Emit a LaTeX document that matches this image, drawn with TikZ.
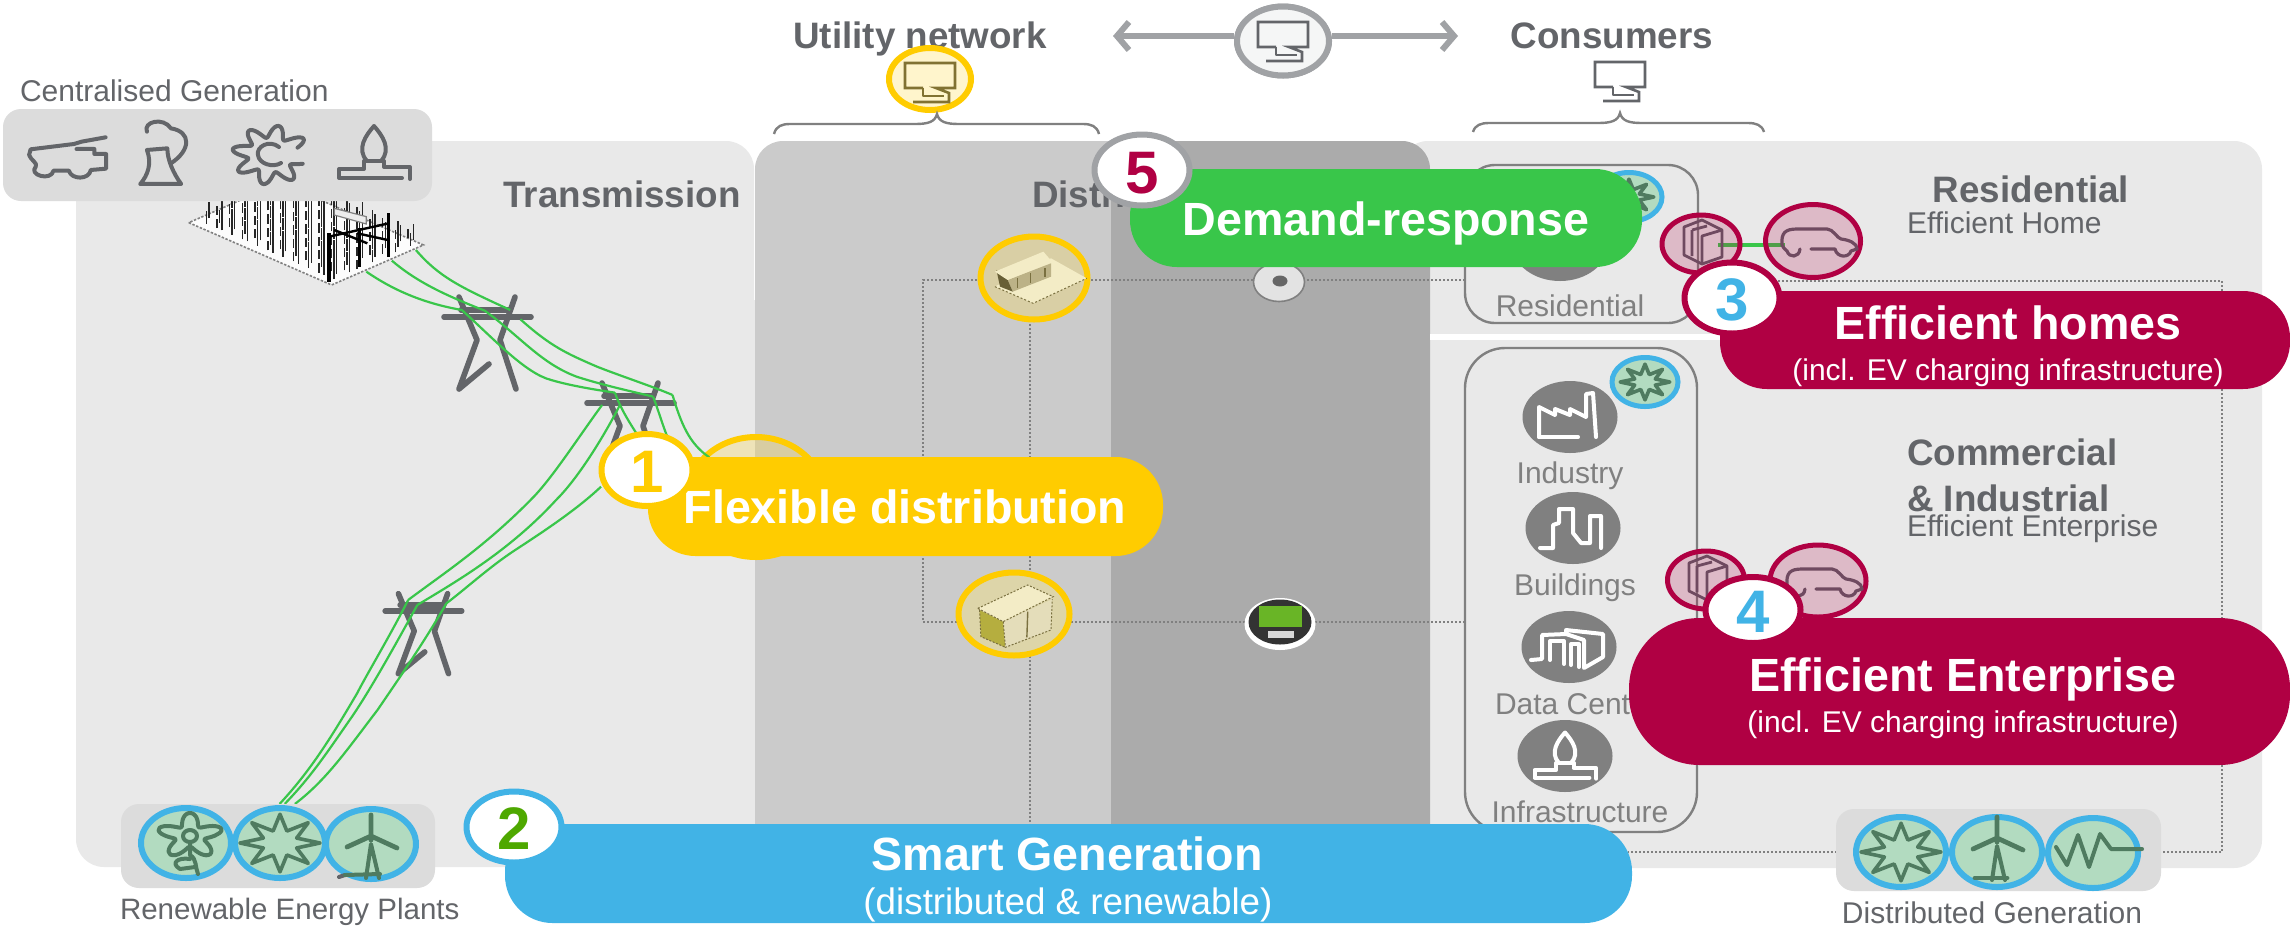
\documentclass[tikz,border=0pt]{standalone}
\usepackage{fontspec}
\setmainfont{Liberation Sans}
\usetikzlibrary{shapes.geometric,arrows.meta}
\definecolor{panelA}{HTML}{E9E9E9}
\definecolor{panelB}{HTML}{CBCBCB}
\definecolor{panelC}{HTML}{ABABAB}
\definecolor{boxgrey}{HTML}{DCDCDC}
\definecolor{txt}{HTML}{636569}
\definecolor{lbl}{HTML}{808080}
\definecolor{arrowgrey}{HTML}{A0A2A5}
\definecolor{yel}{HTML}{FFCC00}
\definecolor{softyel}{HTML}{FCD334}
\definecolor{crim}{HTML}{B00043}
\definecolor{sky}{HTML}{41B3E6}
\definecolor{grn}{HTML}{39C64A}
\definecolor{numgreen}{HTML}{4EA800}
\definecolor{mint}{HTML}{B2DBC0}
\definecolor{leaf}{HTML}{4F7B60}
\definecolor{plum}{HTML}{6F4A60}
\definecolor{sandA}{HTML}{D9CFA5}
\definecolor{sandB}{HTML}{DDD5A9}
\definecolor{cream}{HTML}{F3ECC6}
\definecolor{olive}{HTML}{B5AE3F}
\definecolor{umber}{HTML}{7A7040}
\newcommand{\ftitle}{\fontsize{18.4}{21}\selectfont\bfseries}
\newcommand{\fbar}{\fontsize{23.3}{26}\selectfont\bfseries}
\newcommand{\fsubt}{\fontsize{15}{18}\selectfont}
\newcommand{\fsmart}{\fontsize{18.4}{21}\selectfont}
\newcommand{\fdigit}{\fontsize{30}{33}\selectfont\bfseries}
\tikzset{
  ell/.style n args={2}{ellipse,inner sep=0pt,minimum width={(#1-5)*0.5pt},minimum height={(#2-5)*0.5pt}},
  bar/.style n args={2}{rectangle,inner sep=0pt,minimum width={#1*0.5pt},minimum height={#2*0.5pt},rounded corners={#2*0.24pt}},
  panel/.style={draw=none,rounded corners=14pt},
  tl/.style={anchor=base,inner sep=0pt,outer sep=0pt},
  tw/.style={anchor=base west,inner sep=0pt,outer sep=0pt},
  heading/.style={tl,font=\ftitle,text=txt},
  headingw/.style={tw,font=\ftitle,text=txt},
  subw/.style={tw,font=\fsubt,text=txt},
  subc/.style={tl,font=\fsubt,text=txt},
  captext/.style={tl,font=\fsubt,text=lbl},
  white label/.style={tl,text=white},
  badge/.style={ell={100}{76},fill=white,line width=3pt},
  greencircle/.style={ell={95}{75},draw=sky,fill=mint,line width=3pt},
  smallgreen/.style={ell={71}{54},draw=sky,fill=mint,line width=2.5pt},
  greycircle/.style={ell={100}{77},fill=lbl},
  pinkcircle/.style={ellipse,inner sep=0pt,draw=crim,line width=2.5pt,fill=crim,fill opacity=.2,draw opacity=1},
  dots/.style={draw=lbl,line width=1.2pt,dash pattern=on 1pt off 1pt},
  wire/.style={draw=grn,line width=1.1pt},
  iconline/.style={line width=2pt,line cap=round,line join=round},
  towerline/.style={draw=txt,line width=2.8pt,line cap=round,line join=round},
  towericon/.pic={
    \draw[towerline] (-28,-20) -- (-10,23) -- (-28,72) -- (2,47);
    \draw[towerline] (28,-20) -- (13,23) -- (29,72);
    \draw[towerline] (-43,0) -- (44,0);
    \draw[towerline] (-26,-7) -- (23,-7);
  },
  sunicon/.pic={
    \draw[iconline,draw=leaf,line width=1.8pt] plot[domain=0:360,samples=17] ({(29+11*cos(8*\x))*cos(\x)},{(29+11*cos(8*\x))*0.72*sin(\x)}) -- cycle;
  },
  windicon/.pic={
    \draw[iconline,draw=leaf,line width=2.4pt] (0,-29) -- (0,-4) (-24,3) -- (0,-8) -- (26,4);
    \draw[iconline,draw=leaf] (-5,34) -- (0,0) -- (8,34);
  },
  waveicon/.pic={
    \draw[iconline,draw=leaf] (-37,-6) -- (-26,12) -- (-15,-18) -- (-4,14) -- (7,-19) -- (18,-4) -- (49,-4);
  },
  flowericon/.pic={
    \draw[iconline,draw=leaf] plot[smooth cycle,domain=0:350,samples=48] ({4+(24+9*cos(5*\x+90))*cos(\x)},{-7+(24+9*cos(5*\x+90))*.7*sin(\x)});
    \draw[iconline,draw=leaf] (4,-7) ellipse (7 and 6);
    \draw[iconline,draw=leaf] (4,-1) -- (4,12) .. controls (11,16) and (9,24) .. (12,31) (4,16) .. controls (-8,14) and (-16,20) .. (-6,26) -- (9,24);
  },
  monitoricon/.pic={
    \draw[iconline,line width=1.3pt,line cap=butt,line join=miter] (-7,8) -- (-25,8) -- (-25,-17) -- (25,-17) -- (25,8) -- (6,8) -- (19,13) -- (19,22) -- (-17,22);
    \draw[iconline,line width=1.3pt,line cap=butt] (-7,8) -- (-7,16) -- (14,16);
  },
  burnericon/.pic={
    \draw[iconline] (-7,8) .. controls (-18,-4) and (-8,-18) .. (0,-27) .. controls (8,-18) and (18,-4) .. (7,8);
    \draw[iconline] (28,25) -- (-35,25) -- (-35,16) -- (-10,16) -- (-10,8) -- (10,8) -- (10,14) -- (36,14) -- (36,26);
  },
  dooricon/.pic={
    \draw[draw=plum,line width=1.4pt,line join=round] (-17,-17) -- (1,-24) -- (21,-14) -- (21,13) -- (1,20) -- (-17,11) -- cycle;
    \draw[draw=plum,line width=1.4pt,line join=round] (1,20) -- (1,-8) -- (21,-14);
    \draw[draw=plum,line width=1.4pt] (-9,-14) -- (-9,12) (-9,-14) -- (6,-18);
  },
  caricon/.pic={
    \draw[draw=plum,line width=1.6pt,line join=round,line cap=round] (-31,4) .. controls (-32,-8) and (-28,-12) .. (-16,-12) -- (14,-12) .. controls (20,-12) and (24,-3) .. (28,-2) .. controls (36,-1) and (44,2) .. (44,8) -- (38,10) .. controls (36,17) and (24,17) .. (22,8) -- (-2,8);
    \draw[draw=plum,line width=1.6pt,line cap=round] (-31,4) .. controls (-29,8) and (-27,9) .. (-26,10) .. controls (-24,17) and (-14,17) .. (-13,8);
  },
}
\begin{document}
\begin{tikzpicture}[x=0.5pt,y=-0.5pt]
\useasboundingbox (0,0) rectangle (2290,928);
\fill[white] (0,0) rectangle (2290,928);

% panels
\fill[panelA,panel] (76,141) rectangle (754,867);
\fill[panelA] (730,300) rectangle (760,867);
\fill[panelA,panel] (1400,141) rectangle (2262,868);
\fill[panelB,panel] (755,141) rectangle (1140,867);
\fill[panelC,panel] (1111,141) -- (1430,141) -- (1430,867) -- (1111,867) -- cycle;
\fill[panelC] (1111,200) rectangle (1130,867);
\fill[white] (1430,334) rectangle (1720,340);

% dotted network
\coordinate (dtl) at (923,280);
\coordinate (dbl) at (923,622);
\coordinate (dbr) at (1465,622);
\coordinate (dtr) at (1465,280);
\coordinate (drs) at (1698,281);
\coordinate (dre) at (2222,281);
\coordinate (drb) at (2222,852);
\coordinate (dbm) at (1628,852);
\coordinate (dvt) at (1030,280);
\coordinate (dvb) at (1030,825);
\draw[dots] (dtr) -- (dtl) -- (dbl) -- (dbr);
\draw[dots] (dvt) -- (dvb);
\draw[dots] (drs) -- (dre) -- (drb) -- (dbm);

% headings
\node[heading] (ttrans) at (622,207) {Transmission};
\node[headingw] (tdist) at (1032,207) {Distribution};
\node[heading] (tutil) at (920,48) {Utility network};
\node[heading] (tcons) at (1612,48) {Consumers};
\node[tw,font=\fsubt,text=txt] (tcentral) at (20,101) {Centralised Generation};
\node[heading] (tres) at (2031,202) {Residential};
\node[subw] (tresh) at (1907,233) {Efficient Home};
\node[headingw] (tcom) at (1907,465) {Commercial};
\node[headingw] (tind) at (1907,511) {\& Industrial};
\node[subw] (tente) at (1907,536) {Efficient Enterprise};

% top: data link
\coordinate (arrL) at (1113,36);
\coordinate (arrR) at (1458,36);
\node[ell={97}{74},draw=arrowgrey,fill=white,line width=3pt] (monmid) at (1283,41) {};
\draw[draw=arrowgrey,line width=3pt,-{Straight Barb[length=6pt,width=14pt]}] (monmid.west |- arrL) -- (arrL);
\draw[draw=arrowgrey,line width=3pt,-{Straight Barb[length=6pt,width=14pt]}] (monmid.east |- arrR) -- (arrR);
\node[ell={97}{74},draw=arrowgrey,fill=white!90!arrowgrey,line width=3pt] (monmidb) at (1283,41) {};
\pic[color=txt] at (1283,39) {monitoricon};
\node[ell={87}{67},draw=yel,fill=yel!20,line width=3pt] (monutil) at (930,79) {};
\pic[color=txt!60!yel!80!black] at (930,80) {monitoricon};
\pic[color=txt] at (1620,79) {monitoricon};

% braces
\draw[draw=lbl,line width=1.2pt] (774,134) .. controls (776,126) and (782,124) .. (790,124) -- (915,124) .. controls (928,124) and (935,122) .. (937,114) .. controls (939,122) and (946,124) .. (959,124) -- (1083,124) .. controls (1091,124) and (1097,126) .. (1099,134);
\draw[draw=lbl,line width=1.2pt] (1473,132) .. controls (1475,125) and (1481,123) .. (1489,123) -- (1598,123) .. controls (1611,123) and (1618,121) .. (1620,113) .. controls (1622,121) and (1629,123) .. (1642,123) -- (1748,123) .. controls (1756,123) and (1762,125) .. (1764,132);

% substation
\begin{scope}[xscale=0.5102,yscale=0.3333]
\fill[white!88!panelA] (370,668) -- (650,855) -- (830,735) -- (550,548) -- cycle;
\draw[draw=gray,line width=.8pt,dash pattern=on 1.2pt off .8pt] (370,668) -- (650,855) -- (830,735) -- (550,548) -- cycle;
\foreach \u in {1,...,27}{
  \foreach \v in {1,...,12}{
    \pgfmathsetmacro{\px}{370+\u*10+\v*15}
    \pgfmathsetmacro{\py}{668+\u*6.65-\v*10}
    \pgfmathsetmacro{\ln}{18+mod(\u*7+\v*13,5)*10}
    \pgfmathtruncatemacro{\keep}{mod(\u*3+2*\v,5)}
    \ifnum\keep>1
      \draw[black!85,line width=.7pt] (\px,\py) -- (\px,\py-\ln);
    \fi
  }
}
\draw[black,line width=1.6pt] (645,845) -- (645,700) (705,800) -- (705,685) (762,770) -- (762,640);
\draw[black,line width=1.2pt] (645,710) -- (762,670) (655,690) -- (720,730) (700,700) -- (760,720);
\draw[draw=gray,fill=white!85!gray,line width=.6pt] (655,625) -- (718,650) -- (718,672) -- (655,645) -- cycle;
\end{scope}

% central generation box
\node[rectangle,rounded corners=9pt,fill=boxgrey,inner sep=0pt,minimum width=214.5pt,minimum height=46pt] (centralbox) at (217.5,155) {};
\pic[color=txt] at (374,153) {burnericon};
\begin{scope}[xscale=0.5102,yscale=0.3333]
\draw[iconline,draw=txt] (207,412) -- (160,425) -- (145,432) -- (60,448) -- (57,465) .. controls (60,480) and (75,490) .. (70,500) .. controls (55,525) and (100,545) .. (105,512) -- (135,512) .. controls (140,540) and (175,540) .. (178,510) -- (208,506) -- (208,462) -- (185,462) -- (185,447) -- (150,447);
\draw[iconline,draw=txt] (275,552) -- (355,552) .. controls (340,520) and (328,480) .. (328,445) -- (288,450) .. controls (298,490) and (290,525) .. (275,552);
\draw[iconline,draw=txt] (288,395) .. controls (280,365) and (320,350) .. (335,385) .. controls (375,395) and (375,450) .. (335,490);
\end{scope}
\begin{scope}[shift={(271,155)}]
\draw[iconline,draw=txt] plot[smooth,domain=20:340,samples=120] ({(31+8*sin(8*\x))*cos(\x)},{(31+8*sin(8*\x))*.76*sin(\x)});
\draw[iconline,draw=txt] (8,-8) .. controls (-2,-16) and (-15,-8) .. (-13,0) .. controls (-12,9) and (2,13) .. (10,8);
\end{scope}

% big yellow ellipse (behind flexible bar)
\node[ell={142}{125},draw=yel,fill=softyel,fill opacity=.27,draw opacity=1,line width=3pt] (bigring) at (756,497) {};

% substations on the network
\node[ell={112}{88},draw=yel,fill=sandA,line width=3pt] (subtop) at (1034,278) {};
\begin{scope}[shift={(750,0)},xscale=0.5102,yscale=0.3333]
\fill[cream] (480,860) -- (555,910) -- (660,835) -- (590,775) -- cycle;
\draw[umber,line width=.5pt,dash pattern=on 1pt off 1pt] (480,860) -- (555,910) -- (660,835);
\fill[sandA!70!umber] (505,840) -- (590,790) -- (590,830) -- (515,875) -- cycle;
\fill[umber!85!black] (483,810) -- (505,840) -- (515,875) -- (490,860) -- cycle;
\fill[cream] (480,815) -- (575,755) -- (592,785) -- (505,840) -- cycle;
\draw[umber,line width=.6pt] (525,835) -- (525,865) (550,820) -- (550,850) (578,805) -- (578,830);
\end{scope}
\node[ell={116}{88},draw=yel,fill=sandB,line width=3pt] (subbot) at (1014,614) {};
\begin{scope}[shift={(780,440)},xscale=0.4464,yscale=0.3333]
\fill[olive] (447,510) -- (500,545) -- (505,622) -- (450,590) -- cycle;
\fill[sandB!80!white] (500,545) -- (610,478) -- (607,570) -- (505,622) -- cycle;
\fill[cream] (443,505) -- (555,435) -- (612,470) -- (500,545) -- cycle;
\draw[umber,line width=.5pt,dash pattern=on 1pt off .8pt] (443,505) -- (555,435) -- (612,470) -- (500,545) -- cycle (500,545) -- (505,622) -- (607,570) -- (610,478) (447,510) -- (450,590) -- (505,622);
\draw[umber,line width=.7pt] (555,515) -- (553,592);
\end{scope}

% meters
\node[ell={56}{44},fill=white!78!gray,draw=gray,line width=.8pt] (metertop) at (1279,282) {};
\node[ell={20}{16},fill=gray!80!black] (metertopc) at (1280,281) {};
\node[ell={76}{57},fill=white] (meterbot) at (1280,624) {};
\node[ell={68}{50},fill=black!80] (meterbotb) at (1280,622) {};
\fill[numgreen!85!white] (1259,606) rectangle (1302,627);
\fill[white!85!black] (1268,631) rectangle (1294,638);

% residential and C&I boxes
\node[rectangle,rounded corners=15pt,draw=lbl,line width=1.2pt,fill=panelA,inner sep=0pt,minimum width=116.5pt,minimum height=79pt] (resbox) at (1581.5,244) {};
\node[rectangle,rounded corners=20pt,draw=lbl,line width=1.2pt,fill=panelA,inner sep=0pt,minimum width=116pt,minimum height=242pt] (cibox) at (1581,590) {};
\node[greycircle] (cres) at (1560,245) {};
\node[smallgreen] (sunres) at (1629,197) {};
\pic[scale=.62] at (1629,197) {sunicon};
\node[captext] (lres) at (1570,316) {Residential};
\node[greycircle] (cind) at (1570,417) {};
\begin{scope}[shift={(1570,417)}]
\draw[iconline,draw=white] (-31,20) -- (8,20);
\draw[iconline,draw=white] (-31,20) -- (-31,-10) -- (-15,-2) -- (-15,-8) -- (0,-2) -- (0,-8) -- (16,0) -- (16,-23) -- (23,-24) -- (26,20);
\end{scope}
\node[smallgreen] (sunind) at (1645,382) {};
\pic[scale=.62] at (1645,382) {sunicon};
\node[captext] (lind) at (1570,483) {Industry};
\node[greycircle] (cbld) at (1573,528) {};
\begin{scope}[shift={(1573,528)}]
\draw[iconline,draw=white] (-33,20) -- (-20,20) -- (-20,-3) -- (-14,-5) -- (-14,-19) -- (0,-19) -- (0,5) -- (8,15) -- (17,15) -- (17,-12) -- (28,-12) -- (28,20);
\end{scope}
\node[captext] (lbld) at (1575,595) {Buildings};
\node[greycircle] (cdat) at (1569,647) {};
\begin{scope}[shift={(1569,647)}]
\draw[iconline,draw=white] (-38,13) -- (-27,12) -- (-27,-12) -- (-3,-13) -- (-3,-17) -- (34,-13) -- (34,10) -- (15,21) -- (15,-7) -- (-3,-13);
\draw[iconline,draw=white] (-19,13) -- (-19,-6) -- (-5,-6) -- (-5,17) (2,18) -- (2,-3) -- (10,-3) -- (10,20);
\end{scope}
\node[tw,font=\fsubt,text=lbl] (ldat) at (1495,714) {Data Center};
\node[greycircle] (cinf) at (1565,756) {};
\pic[color=white,scale=.87] at (1565,756) {burnericon};
\node[captext] (linf) at (1580,822) {Infrastructure};

% towers and wires
\pic at (487,317) {towericon};
\pic at (630,403) {towericon};
\pic[xscale=.88,yscale=.87] at (423,611) {towericon};
\begin{scope}[xscale=0.5102,yscale=0.3333]
\coordinate (sa) at (815,750); \coordinate (sb) at (768,782); \coordinate (sc) at (718,815);
\coordinate (ta) at (1000,930); \coordinate (tb) at (950,932); \coordinate (tc) at (905,930);
\coordinate (ua) at (1318,1185); \coordinate (ub) at (1280,1190); \coordinate (uc) at (1205,1178);
\coordinate (va) at (800,1800); \coordinate (vb) at (818,1815); \coordinate (vc) at (875,1810);
\coordinate (ra) at (548,2412); \coordinate (rb) at (558,2412); \coordinate (rc) at (578,2412);
\coordinate (ea) at (1390,1372); \coordinate (eb) at (1320,1350); \coordinate (ec) at (1255,1320);
\coordinate (ga) at (1180,1215); \coordinate (gb) at (1215,1215); \coordinate (gc) at (1178,1460);
\draw[wire] (sa) .. controls (860,830) and (900,860) .. (ta);
\draw[wire] (sb) .. controls (820,850) and (880,890) .. (tb);
\draw[wire] (sc) .. controls (770,870) and (830,910) .. (tc);
\draw[wire] (1020,958) .. controls (1080,1040) and (1110,1060) .. (1170,1100) .. controls (1220,1130) and (1280,1160) .. (ua);
\draw[wire] (tb) .. controls (1020,1010) and (1060,1090) .. (1130,1130) .. controls (1180,1155) and (1240,1175) .. (ub);
\draw[wire] (tc) .. controls (970,1020) and (1030,1120) .. (1080,1140) .. controls (1120,1158) and (1170,1170) .. (uc);
\draw[wire] (ua) .. controls (1335,1270) and (1350,1330) .. (ea);
\draw[wire] (ub) .. controls (1295,1250) and (1305,1310) .. (eb);
\draw[wire] (uc) .. controls (1220,1240) and (1240,1280) .. (ec);
\draw[wire] (ga) .. controls (1130,1320) and (1080,1440) .. (1040,1500) .. controls (950,1640) and (870,1720) .. (va);
\draw[wire] (gb) .. controls (1180,1320) and (1130,1440) .. (1090,1500) .. controls (1000,1650) and (900,1740) .. (vb);
\draw[wire] (gc) .. controls (1130,1530) and (1060,1600) .. (1010,1650) .. controls (960,1700) and (910,1770) .. (vc);
\draw[wire] (va) .. controls (760,1920) and (720,2020) .. (700,2080) .. controls (650,2210) and (610,2310) .. (ra);
\draw[wire] (vb) .. controls (780,1920) and (730,2060) .. (690,2150) .. controls (640,2260) and (610,2330) .. (rb);
\draw[wire] (vc) .. controls (830,1930) and (780,2040) .. (740,2130) .. controls (680,2250) and (640,2340) .. (rc);
\end{scope}

% renewable box
\node[rectangle,rounded corners=9pt,fill=boxgrey,inner sep=0pt,minimum width=157pt,minimum height=42pt] (renbox) at (278,846) {};
\node[greencircle] (flower) at (186,843) {};
\node[greencircle] (rsun) at (280,843) {};
\node[greencircle] (rwind) at (371,844) {};
\pic at (186,843) {flowericon};
\pic at (280,843) {sunicon};
\pic at (371,844) {windicon};
\draw[iconline,draw=txt] (339,877) -- (345,875);
\draw[iconline,draw=leaf] (345,875) -- (380,874);
\node[tw,font=\fontsize{14.75}{17}\selectfont,text=txt] (lren) at (120,919) {Renewable Energy Plants};

% distributed box
\node[rectangle,rounded corners=9pt,fill=boxgrey,inner sep=0pt,minimum width=162.5pt,minimum height=41pt] (disbox) at (1998.5,850) {};
\node[greencircle] (dsun) at (1901,852) {};
\node[greencircle] (dwind) at (1997,852) {};
\node[greencircle] (dwave) at (2093,853) {};
\pic at (1901,852) {sunicon};
\pic at (1997,846) {windicon};
\draw[iconline,draw=leaf,line width=2.4pt] (1975,878) -- (2007,878);
\pic at (2093,853) {waveicon};
\node[subc] (ldis) at (1992,923) {Distributed Generation};

% EV icons, residential
\draw[draw=grn,line width=2pt] (1718,245) -- (1785,245);
\node[ell={83}{63},pinkcircle] (doorA) at (1701,244) {};
\node[ell={100}{78},pinkcircle] (carA) at (1813,241) {};
\pic at (1701,244) {dooricon};
\pic at (1813,241) {caricon};
% EV icons, enterprise
\node[ell={82}{63},pinkcircle] (doorB) at (1706,580) {};
\node[ell={101}{77},pinkcircle] (carB) at (1818,581) {};
\pic at (1706,580) {dooricon};
\pic at (1818,581) {caricon};

% bars
\node[bar={512}{98},fill=grn] (greenbar) at (1386,218) {};
\node[white label,font=\fbar] (tgreen) at (1386,235) {Demand-response};
\node[bar={570}{98},fill=crim] (homesbar) at (2005,340) {};
\node[white label,font=\fbar] (thomes) at (2008,339) {Efficient homes};
\node[white label,font=\fsubt] (thomess) at (2008,380) {(incl. EV charging infrastructure)};
\node[bar={661}{147},fill=crim] (entbar) at (1959.5,691.5) {};
\node[white label,font=\fbar] (tent) at (1963,691) {Efficient Enterprise};
\node[white label,font=\fsubt] (tents) at (1963,732) {(incl. EV charging infrastructure)};
\node[bar={515}{99},fill=yel] (flexbar) at (905.5,506.5) {};
\node[white label,font=\fbar] (tflex) at (905,523) {Flexible distribution};
\node[bar={1127}{99},fill=sky] (smartbar) at (1068.5,873.5) {};
\node[white label,font=\fbar] (tsmart) at (1067,870) {Smart Generation};
\node[white label,font=\fsmart] (tsmarts) at (1068,914) {(distributed \& renewable)};

% number badges
\node[badge,draw=yel,ell={96}{77}] (n1) at (647,470) {};
\node[tl,font=\fdigit,text=yel] (d1) at (647,492) {1};
\node[badge,draw=sky] (n2) at (514,827) {};
\node[tl,font=\fdigit,text=numgreen] (d2) at (514,849) {2};
\node[badge,draw=crim] (n3) at (1732,298) {};
\node[tl,font=\fdigit,text=sky] (d3) at (1732,320) {3};
\node[badge,draw=crim,ell={100}{71}] (n4) at (1753,610) {};
\node[tl,font=\fdigit,text=sky] (d4) at (1753,632) {4};
\node[badge,draw=arrowgrey] (n5) at (1142,170) {};
\node[tl,font=\fdigit,text=crim] (d5) at (1142,193) {5};
\end{tikzpicture}
\end{document}
